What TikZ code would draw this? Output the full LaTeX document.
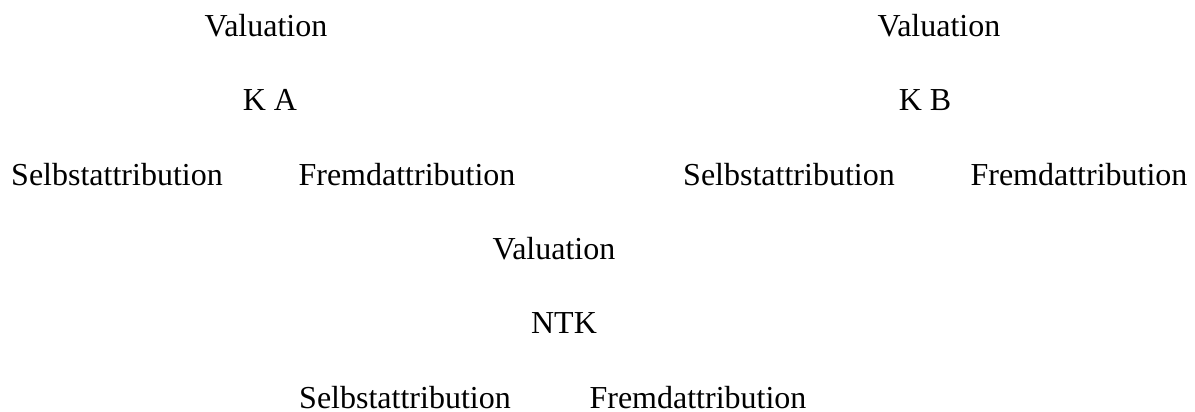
\documentclass[tikz,border=0pt]{standalone}
\usepackage{fontspec}
\setmainfont{Liberation Serif}
\begin{document}
\begin{tikzpicture}[x=0.5pt,y=-0.5pt,
  lbl/.style={anchor=base,inner sep=0pt,font=\fontsize{16}{19}\selectfont}]
\useasboundingbox (0,0) rectangle (1195,412);
% left group
\node[lbl] (valA) at (266,36) {Valuation};
\node[lbl] (kA) at (270,110) {K A};
\node[lbl] (selbstA) at (117,185) {Selbstattribution};
\node[lbl] (fremdA) at (407,185) {Fremdattribution};
% right group
\node[lbl] (valB) at (939,36) {Valuation};
\node[lbl] (kB) at (925,110) {K B};
\node[lbl] (selbstB) at (789,185) {Selbstattribution};
\node[lbl] (fremdB) at (1079,185) {Fremdattribution};
% bottom group
\node[lbl] (valN) at (554,259) {Valuation};
\node[lbl] (ntk) at (564,333) {NTK};
\node[lbl] (selbstN) at (405,408) {Selbstattribution};
\node[lbl] (fremdN) at (698,408) {Fremdattribution};
\end{tikzpicture}
\end{document}
